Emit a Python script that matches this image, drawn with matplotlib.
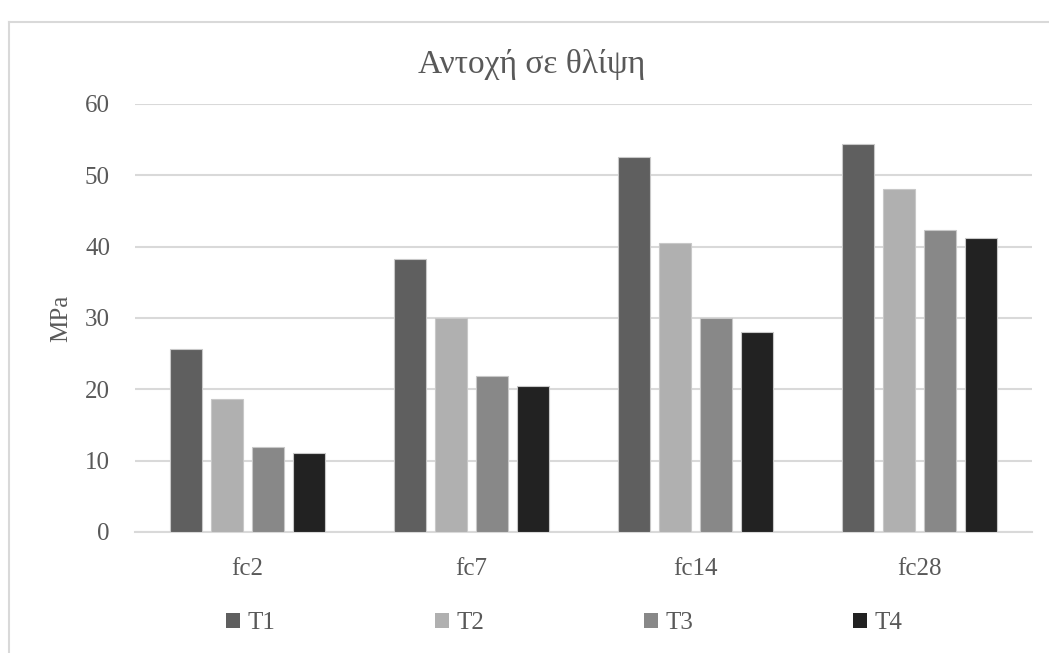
import numpy as np
import matplotlib.pyplot as plt
from matplotlib.lines import Line2D

# compressive strength per age, one list per mix
categories = ['fc2', 'fc7', 'fc14', 'fc28']
series_names = ['T1', 'T2', 'T3', 'T4']
t1 = [25.7, 38.3, 52.6, 54.4]
t2 = [18.7, 30.0, 40.5, 48.1]
t3 = [11.9, 21.9, 30.0, 42.3]
t4 = [11.1, 20.5, 28.0, 41.2]
colors = ['#5f5f5f', '#b0b0b0', '#888888', '#222222']

plt.rcParams['font.family'] = ['Liberation Serif', 'DejaVu Serif']
text_color = '#595959'
grid_color = '#d9d9d9'

fig = plt.figure(figsize=(10.49, 6.53), dpi=100)
ax = fig.add_axes([135 / 1049, 1 - 532 / 653, (1032 - 135) / 1049, (532 - 104) / 653])

x = np.arange(len(categories))
width = 32 / 224
pitch = 41 / 224
data = [t1, t2, t3, t4]
for i, (name, vals) in enumerate(zip(series_names, data)):
    offset = (i - 1.5) * pitch
    ax.bar(x + offset, vals, width, color=colors[i], edgecolor='#c8c8c8',
           linewidth=0.8, label=name, zorder=3)

ax.set_xlim(-0.5, len(categories) - 0.5)
ax.set_ylim(0, 60)
ax.set_yticks(range(0, 61, 10))
ax.set_xticks(x)
ax.set_xticklabels(categories)
ax.yaxis.grid(True, color=grid_color, linewidth=1.5, zorder=0)
ax.set_axisbelow(True)
for side in ['top', 'right', 'left']:
    ax.spines[side].set_visible(False)
ax.spines['bottom'].set_color(grid_color)
ax.spines['bottom'].set_linewidth(1.5)
ax.tick_params(axis='both', length=0, labelsize=18, colors=text_color)
ax.tick_params(axis='y', pad=18)
ax.tick_params(axis='x', pad=19)
ax.set_ylabel('MPa', fontsize=18, color=text_color, labelpad=9)

fig.text(532 / 1049, 1 - 64 / 653, 'Αντοχή σε θλίψη', ha='center', va='center',
         fontsize=24, color=text_color)

leg = fig.legend(loc='center', bbox_to_anchor=(564 / 1049, 1 - 623 / 653), ncol=4,
                 frameon=False, fontsize=18, handlelength=0.55, handleheight=0.55,
                 handletextpad=0.3, columnspacing=6.4, labelcolor=text_color)
for h in leg.legend_handles:
    h.set_edgecolor('none')

# chart frame, left and top edges
fig.add_artist(Line2D([9 / 1049, 9 / 1049], [0, 1 - 22 / 653], color='#d9d9d9', linewidth=1.5))
fig.add_artist(Line2D([9 / 1049, 1], [1 - 22 / 653, 1 - 22 / 653], color='#d9d9d9', linewidth=1.5))

fig.savefig('out.png', dpi=100, facecolor='white')
